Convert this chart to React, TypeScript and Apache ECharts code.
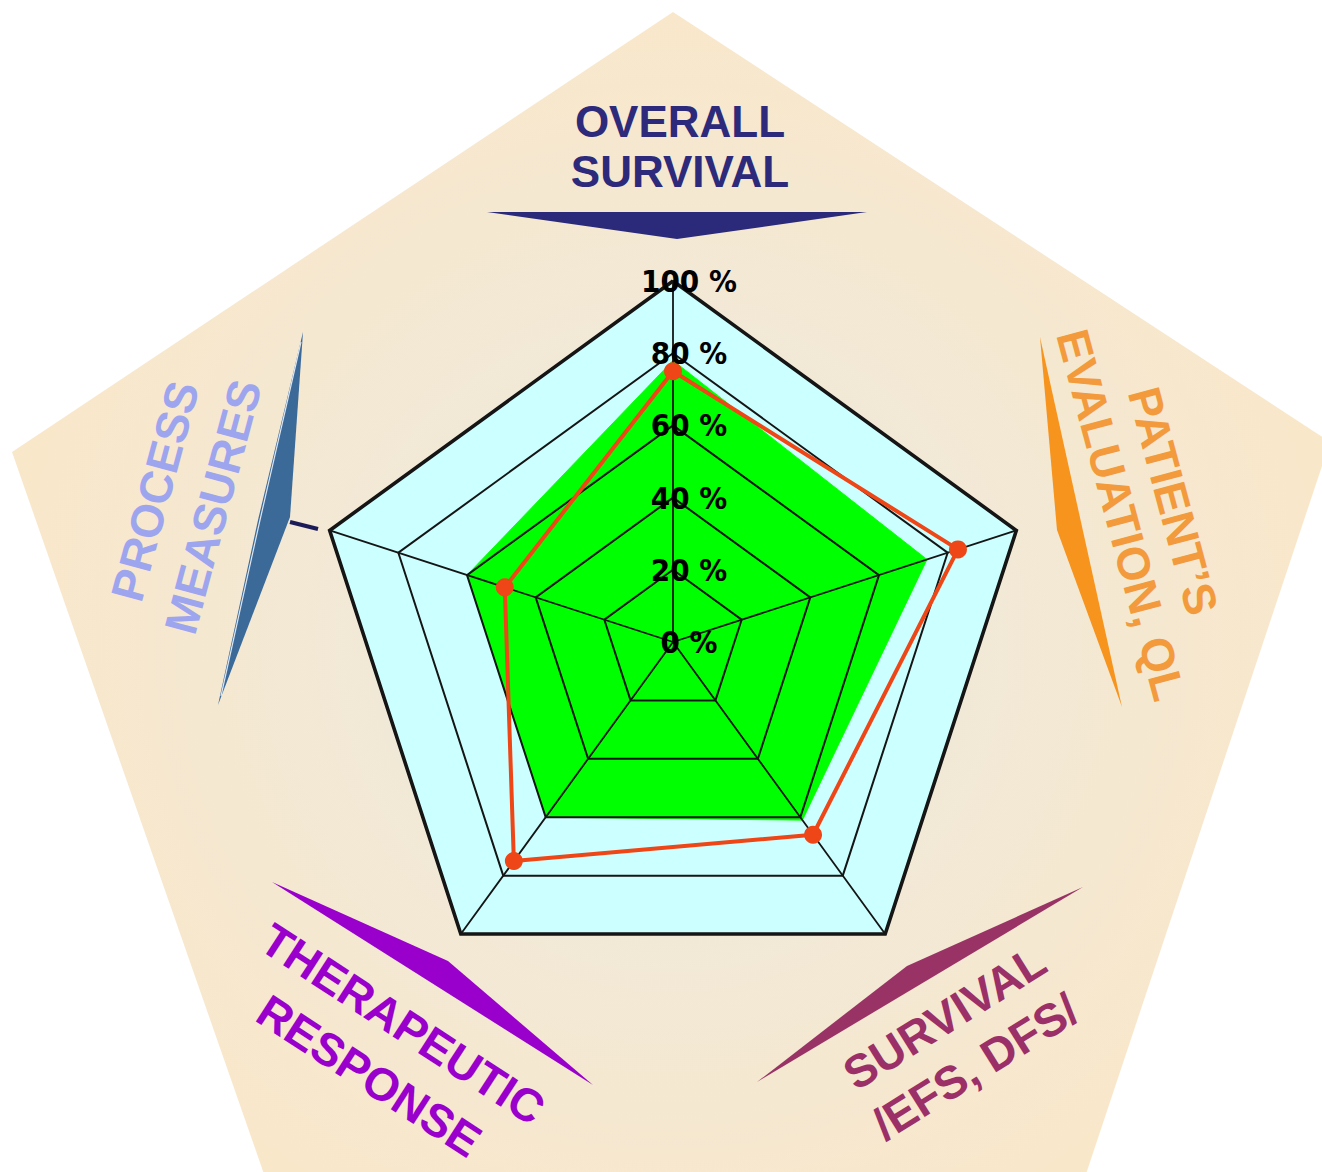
import React, { useEffect, useRef } from 'react';
import * as echarts from 'echarts';

// ---- data ----
const indicatorNames = [
  'OVERALL SURVIVAL',
  'PROCESS MEASURES',
  'THERAPEUTIC RESPONSE',
  'SURVIVAL /EFS, DFS/',
  'PATIENT\u2019S EVALUATION, QL',
];
const axisMax = 100;
const splitCount = 5;
const tickSuffix = ' %';
const benchmarkValues = [78, 60, 60, 61, 74]; // green area
const observedValues = [75, 49, 75, 66, 83]; // red line

const axisTitleLines = [
  'OVERALL\nSURVIVAL',
  'PROCESS\nMEASURES',
  'THERAPEUTIC\nRESPONSE',
  'SURVIVAL\n/EFS, DFS/',
  'PATIENT\u2019S\nEVALUATION, QL',
];

// ---- layout / style ----
const FONT = '"Liberation Sans", Arial, Helvetica, sans-serif';
const TICK_FONT = '"DejaVu Sans Condensed", "Liberation Sans", Arial, sans-serif';
const deg = Math.PI / 180;
const CENTER = [673, 642];
const RADIUS = 361;

const titleLayout = [
  { x: 680, y: 146, rot: 0, color: '#2D2A7B', fs: 44, lh: 50 },
  { x: 184, y: 499, rot: 75, color: '#9DA5EE', fs: 46, lh: 60 },
  { x: 386, y: 1050, rot: -33, color: '#9A00CC', fs: 46, lh: 62 },
  { x: 960, y: 1042, rot: 32, color: '#9B3068', fs: 46, lh: 58 },
  { x: 1147, y: 508, rot: -75, color: '#F29A3C', fs: 46, lh: 54 },
];

const spindles = [
  { pts: [[487, 212], [677, 239], [867, 212]], color: '#2B2A7A' },
  { pts: [[303, 332], [290, 517], [218, 705], [258, 520]], color: '#3B6998' },
  { pts: [[272, 882], [448, 961], [593, 1085]], color: '#9900CC' },
  { pts: [[757, 1082], [907, 966], [1083, 887]], color: '#993366' },
  { pts: [[1040, 337], [1057, 530], [1122, 707]], color: '#F7941D' },
];

function buildOption() {
  const indicator = indicatorNames.map((name) => ({ name, min: 0, max: axisMax }));
  const labelIndicator = indicatorNames.map((name, i) => ({
    name,
    min: 0,
    max: axisMax,
    axisLabel:
      i === 0
        ? {
            show: true,
            formatter: '{value}' + tickSuffix,
            color: '#000',
            fontSize: 31,
            fontWeight: 'bold',
            fontFamily: TICK_FONT,
            margin: -16,
            align: 'center',
          }
        : { show: false },
  }));
  const base = {
    center: CENTER,
    radius: RADIUS,
    startAngle: 90,
    shape: 'polygon',
    axisName: { show: false },
    axisTick: { show: false },
  };

  const graphics: any[] = [];
  graphics.push({
    type: 'polygon',
    z: -100,
    silent: true,
    shape: { points: [[673, 12], [1330, 442], [1044, 1300], [308, 1300], [12, 452]] },
    style: {
      fill: {
        type: 'radial',
        x: 0.5,
        y: 0.49,
        r: 0.5,
        colorStops: [
          { offset: 0, color: '#EEEBE0' },
          { offset: 0.45, color: '#F1E9D7' },
          { offset: 1, color: '#F9E7CA' },
        ],
      },
    },
  });
  spindles.forEach((s) => {
    graphics.push({
      type: 'polygon',
      z: 50,
      silent: true,
      shape: { points: s.pts },
      style: { fill: s.color },
    });
  });
  // light crease on the process-measures spindle
  graphics.push({
    type: 'polyline',
    z: 51,
    silent: true,
    shape: { points: [[301, 342], [260, 520], [221, 696]] },
    style: { stroke: '#DCE6F2', lineWidth: 1.2, fill: null },
  });
  // small navy tick
  graphics.push({
    type: 'line',
    z: 51,
    silent: true,
    shape: { x1: 290, y1: 522, x2: 318, y2: 529 },
    style: { stroke: '#1B1B5A', lineWidth: 4 },
  });
  axisTitleLines.forEach((t, i) => {
    const l = titleLayout[i];
    graphics.push({
      type: 'text',
      z: 60,
      silent: true,
      x: l.x,
      y: l.y,
      rotation: l.rot * deg,
      style: {
        text: t,
        x: 0,
        y: 0,
        fill: l.color,
        fontSize: l.fs,
        fontWeight: 'bold',
        fontFamily: FONT,
        textAlign: 'center',
        textVerticalAlign: 'middle',
        lineHeight: l.lh,
      },
    });
  });

  return {
    animation: false,
    backgroundColor: '#ffffff',
    graphic: graphics,
    radar: [
      {
        ...base,
        indicator,
        splitNumber: splitCount,
        z: 1,
        splitArea: { show: true, areaStyle: { color: ['#CCFFFF'] } },
        splitLine: { show: false },
        axisLine: { show: false },
        axisLabel: { show: false },
      },
      {
        ...base,
        indicator,
        splitNumber: splitCount,
        z: 5,
        splitArea: { show: false },
        splitLine: { show: true, lineStyle: { color: '#151515', width: 2 } },
        axisLine: { show: true, lineStyle: { color: '#151515', width: 1.8 } },
        axisLabel: { show: false },
      },
      {
        ...base,
        indicator,
        splitNumber: 1,
        z: 9,
        splitArea: { show: false },
        splitLine: { show: true, lineStyle: { color: '#151515', width: 3.6 } },
        axisLine: { show: false },
        axisLabel: { show: false },
      },
      {
        ...base,
        indicator: labelIndicator,
        splitNumber: splitCount,
        z: 12,
        splitArea: { show: false },
        splitLine: { show: false },
        axisLine: { show: false },
        axisLabel: { show: false },
      },
    ],
    series: [
      {
        type: 'radar',
        radarIndex: 0,
        z: 2,
        symbol: 'none',
        silent: true,
        lineStyle: { width: 1, color: '#22FF22' },
        areaStyle: { color: '#00FF00', opacity: 1 },
        data: [{ value: benchmarkValues, name: 'Benchmark' }],
      },
      {
        type: 'radar',
        radarIndex: 0,
        z: 8,
        symbol: 'circle',
        symbolSize: 18,
        silent: true,
        lineStyle: { width: 4, color: '#EE4616' },
        itemStyle: { color: '#EE4616' },
        data: [{ value: observedValues, name: 'Observed' }],
      },
    ],
  };
}

export default function App() {
  const ref = useRef<HTMLDivElement>(null);
  useEffect(() => {
    if (!ref.current) return;
    const chart = echarts.init(ref.current, null, { renderer: 'svg' });
    chart.setOption(buildOption() as any);
    return () => chart.dispose();
  }, []);
  return (
    <div
      ref={ref}
      style={{ position: 'fixed', left: 0, top: 0, width: 1322, height: 1172, background: '#fff' }}
    />
  );
}
